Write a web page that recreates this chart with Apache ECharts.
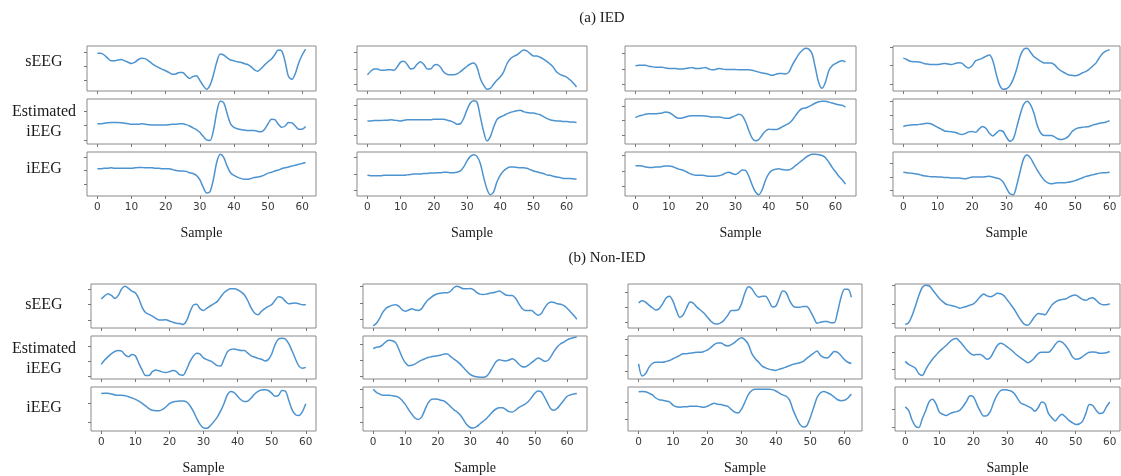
<!DOCTYPE html>
<html>
<head>
<meta charset="utf-8">
<script src="https://cdn.jsdelivr.net/npm/echarts@6/dist/echarts.min.js"></script>
<style>
  html, body { margin: 0; padding: 0; background: #ffffff; }
  #chart { width: 1121px; height: 476px; }
</style>
</head>
<body>
<div id="chart"></div>
<script>
// ---- shared labels ----
const sectionTitles = ['(a) IED', '(b) Non-IED'];
const rowNames = ['sEEG', 'Estimated\niEEG', 'iEEG'];
const sampleTicks = [0, 10, 20, 30, 40, 50, 60];

// ---- (a) IED segments: sEEG / estimated iEEG / recorded iEEG ----
const ied1Seeg = [84,84,80,73,67,67,69,70,67,64,61,64,70,73,72,67,61,56,52,48,45,41,37,38,41,41,34,28,32,34,24,12,4,13,36,65,82,80,74,69,67,65,64,61,59,54,47,44,50,58,65,71,81,91,89,65,32,26,39,63,80,93];
const ied1Est  = [45,45,46,47,48,48,48,47,46,45,44,44,44,45,44,43,42,42,42,42,42,43,44,44,45,45,43,40,36,32,26,17,9,8,30,72,95,92,68,45,37,34,32,31,30,30,30,28,27,33,45,55,54,44,37,40,48,47,40,33,33,39];
const ied1Ieeg = [62,62,63,63,64,63,63,63,63,63,63,64,65,65,64,64,64,63,63,62,62,62,60,58,57,57,56,53,51,47,37,20,7,10,38,78,95,88,68,53,47,43,40,38,38,40,42,43,45,48,52,54,57,59,62,64,66,68,70,72,74,76];

const ied2Seeg = [36,44,49,49,46,46,47,47,46,54,64,66,59,49,51,60,65,59,49,49,57,59,53,42,37,36,36,38,43,49,55,60,62,53,28,13,4,6,15,24,31,42,60,71,77,80,86,91,89,83,78,78,75,71,66,60,53,42,37,34,31,25,18,9];
const ied2Est  = [51,51,52,52,52,53,53,54,53,52,51,53,54,54,54,54,54,54,54,54,55,55,55,55,53,51,48,44,45,57,76,91,96,93,61,28,7,16,37,54,60,63,67,70,72,74,75,72,70,69,69,67,65,61,57,54,52,51,51,50,50,49,49,48];
const ied2Ieeg = [47,46,46,46,46,47,47,47,47,47,47,47,48,49,50,50,50,51,51,52,52,53,53,54,54,53,53,54,57,66,80,90,94,90,74,43,16,3,9,32,47,57,63,66,66,65,64,64,63,60,57,55,53,51,48,47,45,43,42,40,40,40,39,38];

const ied3Seeg = [56,57,57,57,55,54,53,53,53,51,50,50,50,49,49,50,51,52,50,50,51,52,49,47,48,50,49,48,48,48,48,47,47,47,47,46,44,42,40,39,37,35,37,39,39,38,42,57,70,82,90,95,93,82,50,18,6,20,45,56,61,65,67,65];
const ied3Est  = [59,62,64,66,67,67,67,68,69,71,70,66,60,57,58,60,62,63,63,63,63,62,61,60,60,60,59,57,57,60,63,66,63,50,30,13,7,10,20,29,33,32,32,34,38,42,46,53,63,73,79,80,83,87,91,94,95,95,93,91,89,87,86,82];
const ied3Ieeg = [69,69,68,66,65,65,66,66,67,68,68,67,64,61,59,56,52,49,47,47,47,46,45,45,45,46,48,52,54,51,49,53,59,58,45,25,9,3,14,36,51,58,61,62,60,59,59,63,69,75,81,87,92,95,95,94,92,87,77,65,55,45,37,27];

const ied4Seeg = [73,70,66,65,65,64,61,60,59,59,59,60,61,60,59,61,63,62,55,51,56,67,70,73,77,80,68,38,13,4,5,12,27,50,78,93,95,86,76,71,66,62,62,62,58,50,44,40,36,35,34,36,40,43,48,55,62,74,84,89,92];
const ied4Est  = [39,41,42,43,43,44,45,46,45,41,37,33,29,28,27,26,23,21,23,27,28,26,33,39,35,24,18,24,30,28,15,6,12,38,66,88,95,87,68,40,24,19,19,19,16,11,10,12,17,27,33,36,37,38,39,42,44,46,47,49,52];
const ied4Ieeg = [54,53,52,51,50,48,46,45,44,44,43,43,42,42,41,41,41,40,39,41,43,43,43,43,44,45,43,41,39,32,18,5,3,25,57,85,93,86,72,58,46,36,30,28,29,30,30,30,31,33,35,38,41,44,46,48,50,52,53,53,54];

// ---- (b) Non-IED segments ----
const non1Seeg = [66,73,78,74,67,74,89,95,90,84,80,67,47,35,31,27,22,18,18,19,16,13,11,10,8,16,36,52,54,44,40,45,50,55,60,70,80,86,89,89,87,82,75,62,45,34,30,38,44,49,53,63,71,69,61,55,56,57,55,53,53];
const non1Est  = [34,44,52,59,64,66,65,56,52,57,54,37,21,8,8,17,21,19,16,15,17,20,18,10,9,22,40,53,60,58,49,45,42,37,31,30,46,63,69,70,68,66,66,60,54,51,48,46,42,45,58,80,93,95,93,82,65,46,30,25,27];
const non1Ieeg = [85,86,86,84,82,81,81,80,78,75,72,68,63,57,51,47,46,46,49,55,62,66,67,68,68,66,58,45,29,15,7,6,12,21,31,45,62,82,90,87,79,71,67,68,75,84,90,93,94,92,86,79,81,92,91,70,48,37,35,44,62];

const non2Seeg = [5,11,22,36,45,49,52,53,49,41,38,41,44,41,40,44,55,64,70,75,78,79,80,80,84,92,95,92,89,89,90,87,81,77,76,77,79,80,82,84,80,75,74,74,68,56,45,40,40,40,34,29,33,45,55,59,58,55,54,51,45,37,29,20];
const non2Est  = [71,74,75,80,87,90,89,84,68,50,37,31,32,35,40,44,47,50,52,53,54,56,58,58,52,46,41,34,26,18,11,7,5,4,4,6,15,28,40,45,43,42,44,47,43,35,29,28,32,38,44,49,46,41,43,52,65,75,82,86,91,94,96,98];
const non2Ieeg = [95,88,84,81,81,81,80,79,76,69,60,48,38,29,26,32,48,64,72,73,72,70,68,62,55,48,43,36,25,14,8,7,10,16,22,28,36,44,50,53,53,49,44,43,47,53,57,61,67,76,86,91,89,77,63,50,47,52,61,70,79,82,84,85];

const non3Seeg = [57,62,59,52,46,41,44,55,68,72,61,40,24,30,46,59,56,47,41,34,25,16,10,9,12,19,29,40,40,41,56,80,94,89,77,70,72,72,61,48,50,68,84,80,62,50,47,47,49,49,39,24,11,13,15,15,12,12,37,70,88,88,70];
const non3Est  = [35,7,12,27,36,39,39,39,41,43,47,51,55,59,59,60,61,62,62,64,67,73,80,84,84,79,77,80,85,92,96,91,80,59,47,39,30,26,23,21,20,23,25,28,31,34,36,38,41,48,54,60,65,55,50,49,56,64,62,54,45,39,36];
const non3Ieeg = [89,90,89,86,82,75,71,70,68,66,59,55,54,55,55,56,56,56,55,54,56,60,63,61,60,58,56,49,43,41,50,66,83,92,95,95,95,95,95,94,91,86,82,79,70,48,30,15,9,12,30,53,76,87,90,87,83,77,71,69,70,75,84];

const non4Seeg = [8,12,28,50,74,92,97,96,87,77,67,60,54,52,50,48,45,47,49,52,55,62,71,77,73,71,74,79,78,73,63,53,42,29,17,8,6,15,26,33,32,30,40,52,59,63,65,66,70,74,75,70,65,63,67,69,63,56,53,53,55];
const non4Est  = [41,34,30,25,12,8,22,35,46,55,64,71,78,86,92,94,87,78,68,60,56,57,57,52,46,50,64,78,83,80,74,68,61,54,48,43,38,42,50,59,62,62,62,69,80,88,86,78,67,52,46,47,52,58,62,63,62,60,60,61,64];
const non4Ieeg = [55,47,25,11,8,28,46,66,72,62,43,38,35,39,42,44,47,56,68,80,78,61,45,34,35,45,66,82,92,94,93,91,85,73,63,60,56,52,45,53,66,62,40,30,23,32,38,32,24,19,15,16,22,40,60,58,47,40,41,55,66];

// y tick values of each panel (top row / middle row / bottom row)
const iedTicks = [
  [[24,56,87],[9,41,73],[27,58,88]],
  [[14,49,86],[19,54,87],[12,50,88]],
  [[15,49,83],[20,52,84],[22,57,92]],
  [[16,57,98],[33,65,95],[12,43,75]]
];
const nonTicks = [
  [[17,53,87],[6,42,77],[19,63]],
  [[19,56,95],[6,43,80],[19,55,95]],
  [[13,47,81],[18,55,92],[26,66]],
  [[10,53,98],[22,62],[9,49]]
];

const sections = [
  { title: sectionTitles[0], ticks: iedTicks,
    columns: [[ied1Seeg, ied1Est, ied1Ieeg], [ied2Seeg, ied2Est, ied2Ieeg],
              [ied3Seeg, ied3Est, ied3Ieeg], [ied4Seeg, ied4Est, ied4Ieeg]] },
  { title: sectionTitles[1], ticks: nonTicks,
    columns: [[non1Seeg, non1Est, non1Ieeg], [non2Seeg, non2Est, non2Ieeg],
              [non3Seeg, non3Est, non3Ieeg], [non4Seeg, non4Est, non4Ieeg]] }
];

// ---- layout (pixels) ----
const layout = [
  { titleXY: [602, 18],
    rows: [[46, 91], [99, 144], [152, 196]],
    cols: [[87, 316], [357, 587], [625, 856], [893, 1120]],
    labelY: [62, 122, 169] },
  { titleXY: [607, 258],
    rows: [[284, 328], [336, 379], [387, 432]],
    cols: [[91, 316], [363, 587], [628, 862], [895, 1120]],
    labelY: [305, 359, 408] }
];

const LINE = '#4d93cf';
const FRAME = '#8a8a8a';
const SERIF = '"Liberation Serif", "Times New Roman", serif';

const grids = [], xAxes = [], yAxes = [], series = [], graphics = [];

sections.forEach((sec, s) => {
  const L = layout[s];
  graphics.push({
    type: 'text', x: L.titleXY[0], y: L.titleXY[1], silent: true,
    style: { text: sec.title, font: '15px ' + SERIF, fill: '#1a1a1a', align: 'center', verticalAlign: 'middle' }
  });
  rowNames.forEach((name, r) => {
    graphics.push({
      type: 'text', x: 44, y: L.labelY[r], silent: true,
      style: { text: name, font: '16px ' + SERIF, lineHeight: 20, fill: '#1a1a1a', align: 'center', verticalAlign: 'middle' }
    });
  });
  sec.columns.forEach((col, c) => {
    col.forEach((values, r) => {
      const g = grids.length;
      const n = values.length - 1;
      grids.push({
        left: L.cols[c][0], width: L.cols[c][1] - L.cols[c][0],
        top: L.rows[r][0], height: L.rows[r][1] - L.rows[r][0],
        show: true, borderColor: FRAME, borderWidth: 1, backgroundColor: 'transparent'
      });
      const bottomRow = r === 2;
      xAxes.push({
        gridIndex: g, type: 'value', position: 'bottom', min: -0.05 * n, max: 1.05 * n,
        axisLine: { show: false, onZero: false },
        splitLine: { show: false },
        axisTick: { show: true, inside: false, customValues: sampleTicks, length: 3, lineStyle: { color: '#777', width: 1 } },
        axisLabel: { show: bottomRow, customValues: sampleTicks, margin: 6,
                     fontFamily: '"DejaVu Sans", sans-serif', fontSize: 10.5, color: '#3a3a3a' },
        name: bottomRow ? 'Sample' : '', nameLocation: 'middle', nameGap: 30,
        nameTextStyle: { fontFamily: SERIF, fontSize: 14, color: '#1a1a1a' }
      });
      yAxes.push({
        gridIndex: g, type: 'value', position: 'left', min: 0, max: 100,
        axisLine: { show: false, onZero: false },
        splitLine: { show: false },
        axisLabel: { show: false },
        axisTick: { show: true, inside: false, customValues: sec.ticks[c][r], length: 3, lineStyle: { color: '#777', width: 1 } }
      });
      series.push({
        type: 'line', xAxisIndex: g, yAxisIndex: g,
        data: values.map((v, i) => [i, v]),
        showSymbol: false, symbol: 'none', smooth: 0.3, silent: true,
        lineStyle: { color: LINE, width: 1.5 }
      });
    });
  });
});

const chart = echarts.init(document.getElementById('chart'), null, { renderer: 'canvas' });
chart.setOption({
  animation: false,
  backgroundColor: '#ffffff',
  grid: grids,
  xAxis: xAxes,
  yAxis: yAxes,
  series: series,
  graphic: graphics
});
</script>
</body>
</html>
